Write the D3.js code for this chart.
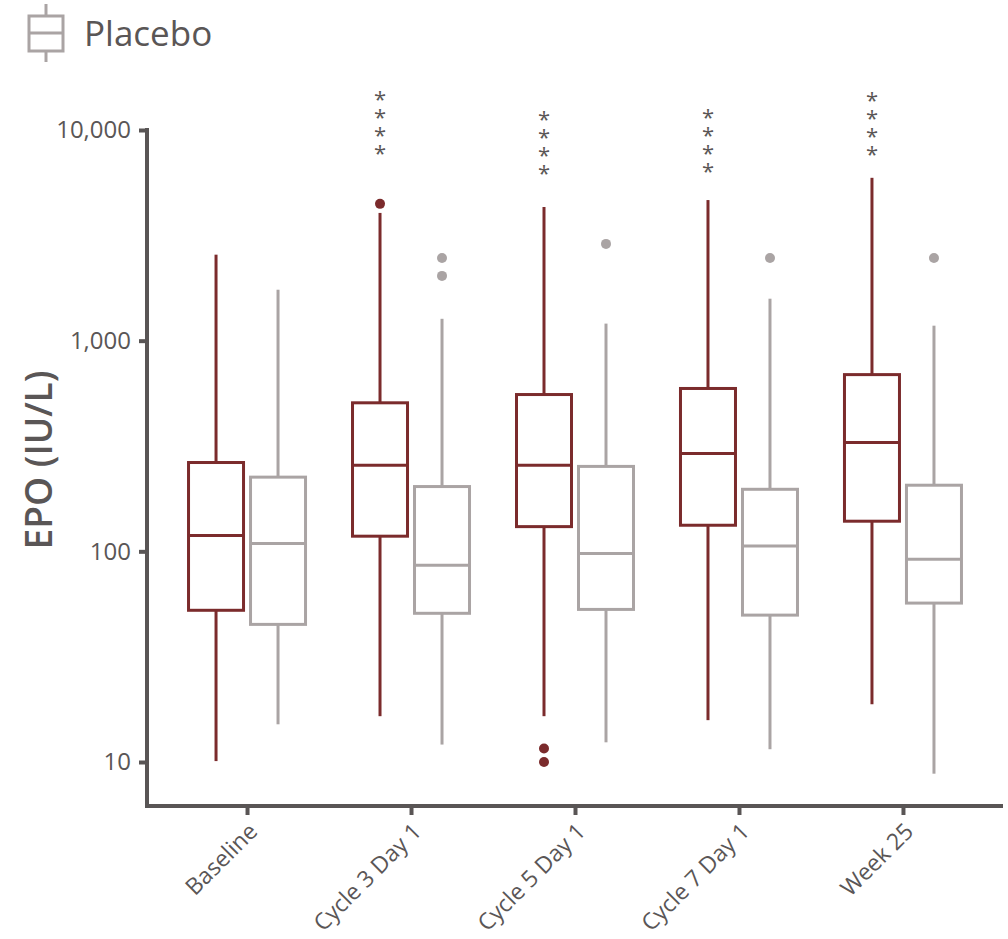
<!DOCTYPE html>
<html>
<head>
<meta charset="utf-8">
<script src="https://cdn.jsdelivr.net/npm/d3@7"></script>
<style>
  body { margin: 0; background: #fff; }
  svg { display: block; }
  svg text { font-family: "Open Sans", "Noto Sans", sans-serif; }
</style>
</head>
<body>
<svg id="canvas" width="1008" height="939"></svg>
<script>
// categories and tick labels
var categories = ["Baseline", "Cycle 3 Day 1", "Cycle 5 Day 1", "Cycle 7 Day 1", "Week 25"];
var yTicks = [10, 100, 1000, 10000];

// treatment arm (red) : [whiskerLow, q1, median, q3, whiskerHigh]
var treatStats = [
  [10.1, 52.5, 119, 264, 2560],
  [16.5, 118, 256, 507, 4040],
  [16.5, 131, 256, 555, 4310],
  [15.8, 133, 291, 593, 4650],
  [18.8, 139, 329, 690, 5930]
];
var treatOutliers = [[], [4460], [11.6, 10.0], [], []];

// placebo arm (grey)
var placeboStats = [
  [15.1, 45, 109, 225, 1745],
  [12.1, 50.8, 86, 203, 1270],
  [12.4, 53, 97.7, 253, 1205],
  [11.5, 49.8, 106, 197, 1582],
  [8.8, 56.8, 91.6, 206, 1178]
];
var placeboOutliers = [[], [2470, 2030], [2880], [2470], [2470]];

// significance marks (value of the lowest asterisk), "" = none
var sigLabels = ["", "****", "****", "****", "****"];
var sigLevel = [null, 7950, 6390, 6540, 7870];

var red = "#7b2b2c";
var grey = "#aaa4a4";
var axisColor = "#595555";
var textColor = "#5a5656";

var svg = d3.select("#canvas");

var plotLeft = 147, plotRight = 1003, plotTop = 128, plotBottom = 806;

var y = d3.scaleLog().domain([10, 10000]).range([762, 130]);
var x = d3.scalePoint().domain(categories).range([plotLeft, plotRight]).padding(0.61);
var arm = d3.scaleBand().domain(["treat", "placebo"]).range([-62, 62]);
var boxW = 55;

// axes
var yAxis = svg.append("g")
  .attr("transform", "translate(" + plotLeft + ",0)")
  .call(d3.axisLeft(y).tickValues(yTicks).tickFormat(d3.format(",")).tickSize(8).tickPadding(8));
yAxis.attr("font-family", null);
yAxis.select(".domain").remove();
yAxis.selectAll(".tick line").attr("stroke", axisColor).attr("stroke-width", 4);
yAxis.selectAll(".tick text").attr("fill", textColor).style("font-size", "24px");

var xAxis = svg.append("g")
  .attr("transform", "translate(0," + plotBottom + ")")
  .call(d3.axisBottom(x).tickSize(9).tickPadding(6));
xAxis.attr("font-family", null);
xAxis.select(".domain").remove();
xAxis.selectAll(".tick line").attr("stroke", axisColor).attr("stroke-width", 4);
xAxis.selectAll(".tick text")
  .attr("fill", textColor)
  .style("font-size", "23px")
  .attr("text-anchor", "end")
  .attr("dx", "-11")
  .attr("dy", "12")
  .attr("transform", "rotate(-45)");

svg.append("path")
  .attr("d", "M" + plotLeft + " " + plotTop + " L" + plotLeft + " " + plotBottom + " L" + plotRight + " " + plotBottom)
  .attr("fill", "none")
  .attr("stroke", axisColor)
  .attr("stroke-width", 4);

// y title
svg.append("text")
  .attr("transform", "translate(52," + 460 + ") rotate(-90)")
  .attr("text-anchor", "middle")
  .attr("fill", textColor)
  .style("font-size", "37px")
  .style("font-weight", "600")
  .text("EPO (IU/L)");

function drawBoxes(stats, outliers, key, color) {
  var g = svg.append("g");
  stats.forEach(function (s, i) {
    var cx = x(categories[i]) + arm(key) + arm.bandwidth() / 2;
    // whiskers
    g.append("line").attr("x1", cx).attr("x2", cx).attr("y1", y(s[0])).attr("y2", y(s[1]))
      .attr("stroke", color).attr("stroke-width", 3);
    g.append("line").attr("x1", cx).attr("x2", cx).attr("y1", y(s[3])).attr("y2", y(s[4]))
      .attr("stroke", color).attr("stroke-width", 3);
    // box
    g.append("rect")
      .attr("x", cx - boxW / 2).attr("width", boxW)
      .attr("y", y(s[3])).attr("height", y(s[1]) - y(s[3]))
      .attr("fill", "#fff").attr("stroke", color).attr("stroke-width", 3);
    // median
    g.append("line").attr("x1", cx - boxW / 2).attr("x2", cx + boxW / 2)
      .attr("y1", y(s[2])).attr("y2", y(s[2]))
      .attr("stroke", color).attr("stroke-width", 3);
    // outliers
    outliers[i].forEach(function (v) {
      g.append("circle").attr("cx", cx).attr("cy", y(v)).attr("r", 5).attr("fill", color);
    });
  });
}

drawBoxes(treatStats, treatOutliers, "treat", red);
drawBoxes(placeboStats, placeboOutliers, "placebo", grey);

// significance asterisks, written vertically as one text
var starGap = 17.9;
sigLabels.forEach(function (lab, i) {
  if (!lab) return;
  var cx = x(categories[i]) + arm("treat") + arm.bandwidth() / 2;
  var y0 = y(sigLevel[i]);
  var t = svg.append("text")
    .attr("x", cx).attr("y", 0)
    .attr("fill", textColor)
    .style("font-size", "22px")
    .style("writing-mode", "vertical-rl")
    .style("text-orientation", "upright")
    .text(lab);
  var node = t.node();
  var n = lab.length;
  var p0 = node.getStartPositionOfChar(0), p1 = node.getStartPositionOfChar(1);
  var d = p1.y - p0.y;
  if (Math.abs(d) > 1) {
    t.style("letter-spacing", (starGap - d) + "px");
    var e = node.getExtentOfChar(n - 1);
    var cy = e.y + Math.min(e.height, 22) / 2;
    t.attr("y", y0 - cy - 5);
  } else {
    // fallback: stacked tspans
    t.style("writing-mode", null).style("text-orientation", null).text(null)
      .attr("text-anchor", "middle");
    lab.split("").forEach(function (c, k) {
      t.append("tspan").attr("x", cx)
        .attr("y", y0 - (n - 1 - k) * starGap + 12).text(c);
    });
  }
});

// legend
var lg = svg.append("g");
lg.append("line").attr("x1", 46).attr("x2", 46).attr("y1", 4).attr("y2", 62)
  .attr("stroke", grey).attr("stroke-width", 3);
lg.append("rect").attr("x", 29).attr("y", 16).attr("width", 34).attr("height", 35)
  .attr("fill", "#fff").attr("stroke", grey).attr("stroke-width", 3);
lg.append("line").attr("x1", 29).attr("x2", 63).attr("y1", 33).attr("y2", 33)
  .attr("stroke", grey).attr("stroke-width", 3);
lg.append("text").attr("x", 84).attr("y", 46)
  .attr("fill", textColor)
  .style("font-size", "35px")
  .text("Placebo");
</script>
</body>
</html>
